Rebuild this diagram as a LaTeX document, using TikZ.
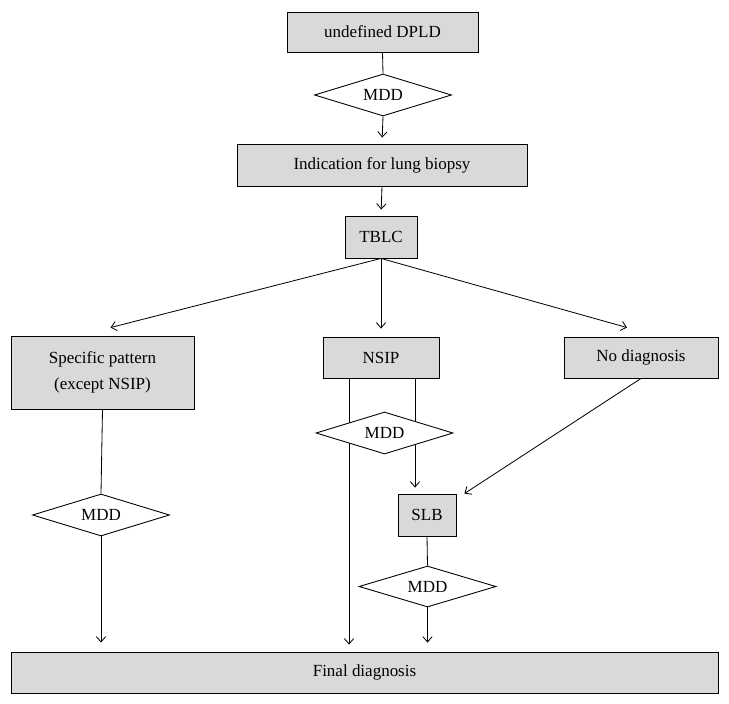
\documentclass[tikz,border=0pt]{standalone}
\usepackage{fontspec}
\setmainfont{Liberation Serif}
\usetikzlibrary{shapes.geometric,arrows.meta,backgrounds}

\tikzset{
  greybox/.style={draw=black,fill=black!15,line width=0.75pt,inner sep=0pt,
    font=\fontsize{14.5}{22}\selectfont,align=center},
  mddnode/.style={draw=black,fill=white,diamond,aspect=3.26,line width=0.75pt,inner sep=0pt,
    minimum width=4.11cm,minimum height=1.26cm,font=\fontsize{14.5}{22}\selectfont},
  link/.style={black,line width=0.7pt},
  arrowlink/.style={link,-{Straight Barb[length=1.6mm,width=2.8mm]}}
}

\begin{document}
\begin{tikzpicture}[x=0.03cm,y=-0.03cm]
\useasboundingbox (0,0) rectangle (729,704);
\node[greybox,minimum width=5.73cm,minimum height=1.20cm] (dpld) at (382.5,32) {undefined DPLD};
\node[mddnode] (mddtop) at (383,95) {MDD};
\node[greybox,minimum width=8.70cm,minimum height=1.26cm] (indic) at (382,165) {Indication for lung biopsy};
\node[greybox,minimum width=2.16cm,minimum height=1.26cm] (tblc) at (381,237) {TBLC};
\node[greybox,minimum width=5.49cm,minimum height=2.19cm] (spec) at (102.5,372.5) {Specific pattern\\(except NSIP)};
\node[greybox,minimum width=3.48cm,minimum height=1.23cm] (nsip) at (381,357.5) {NSIP};
\node[greybox,minimum width=4.62cm,minimum height=1.23cm] (nodiag) at (641,357.5) {No diagnosis};
\node[mddnode] (mddleft) at (101,515) {MDD};
\node[mddnode] (mddmid) at (384.5,433) {MDD};
\node[greybox,minimum width=1.74cm,minimum height=1.26cm] (slb) at (427,515) {SLB};
\node[mddnode,minimum height=1.23cm] (mddslb) at (427.5,586.5) {MDD};
\node[greybox,minimum width=21.21cm,minimum height=1.23cm] (final) at (364.5,672.5) {Final diagnosis};
% connectors
\draw[link] (dpld.south) -- (mddtop.north);
\draw[arrowlink,shorten >=0.18cm] (mddtop.south) -- (indic.north);
\draw[arrowlink,shorten >=0.18cm] (indic.south) -- (tblc.north);
\draw[arrowlink] (tblc.south) -- ([xshift=0.24cm,yshift=0.24cm]spec.north);
\draw[arrowlink,shorten >=0.24cm] (tblc.south) -- (nsip.north);
\draw[arrowlink] (tblc.south) -- ([xshift=-0.42cm,yshift=0.27cm]nodiag.north);
\draw[link] (spec.south) -- (mddleft.north);
\draw[arrowlink,shorten >=0.27cm] (mddleft.south) -- (mddleft.south |- final.north);
\begin{scope}[on background layer]
\draw[arrowlink,shorten >=0.21cm] ([xshift=-0.96cm]nsip.south) -- ([xshift=-0.96cm]nsip.south |- final.north);
\draw[arrowlink,shorten >=0.18cm] ([xshift=1.02cm]nsip.south) -- ([xshift=1.02cm]nsip.south |- slb.north);
\end{scope}
\draw[arrowlink] (nodiag.south) -- ([xshift=0.24cm]slb.north east);
\draw[link] (slb.south) -- (mddslb.north);
\draw[arrowlink,shorten >=0.27cm] (mddslb.south) -- (mddslb.south |- final.north);
\end{tikzpicture}
\end{document}
